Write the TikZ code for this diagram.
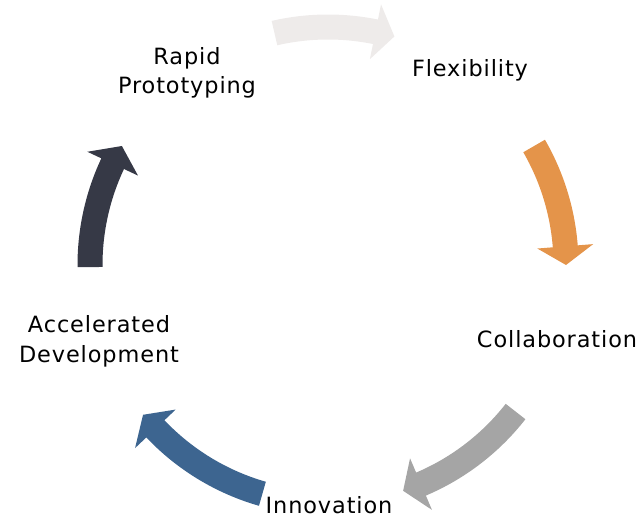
\documentclass[tikz,border=0pt]{standalone}
\usepackage{fontspec}
\newfontfamily\lblfont[LetterSpace=4]{DejaVu Sans}
\definecolor{ctop}{RGB}{238,235,234}
\definecolor{corange}{RGB}{228,148,74}
\definecolor{cgray}{RGB}{165,165,165}
\definecolor{cblue}{RGB}{61,101,144}
\definecolor{cdark}{RGB}{54,57,70}
\newcommand\cyclarrow[4]{%
  \fill[#1] (#2:250.5) arc[start angle=#2, end angle=#3, radius=250.5]
    -- (#3:266) -- (#4:238) -- (#3:210) -- (#3:225.5)
    arc[start angle=#3, end angle=#2, radius=225.5] -- cycle;}
\begin{document}
\begin{tikzpicture}[x=0.75pt,y=0.75pt,
  lbl/.style={font=\lblfont\fontsize{16.8}{22}\selectfont, inner sep=0pt, align=center, anchor=base, text=black}]
\useasboundingbox (0,0) rectangle (641,518);
\begin{scope}[shift={(328,253)}]
  \cyclarrow{ctop}{103}{78.5}{73.8}
  \cyclarrow{corange}{30}{4.5}{0}
  \cyclarrow{cgray}{-38}{-67}{-71.6}
  \cyclarrow{cblue}{-106}{-136.5}{-141}
  \cyclarrow{cdark}{180.5}{154.8}{150}
\end{scope}
\node[lbl] (rapid) at (187,424) {Rapid\\Prototyping};
\node[lbl] (flex) at (470,441) {Flexibility};
\node[lbl] (collab) at (557,171) {Collaboration};
\node[lbl] (innov) at (329,5) {Innovation};
\node[lbl] (accel) at (99,156) {Accelerated\\Development};
\end{tikzpicture}
\end{document}
